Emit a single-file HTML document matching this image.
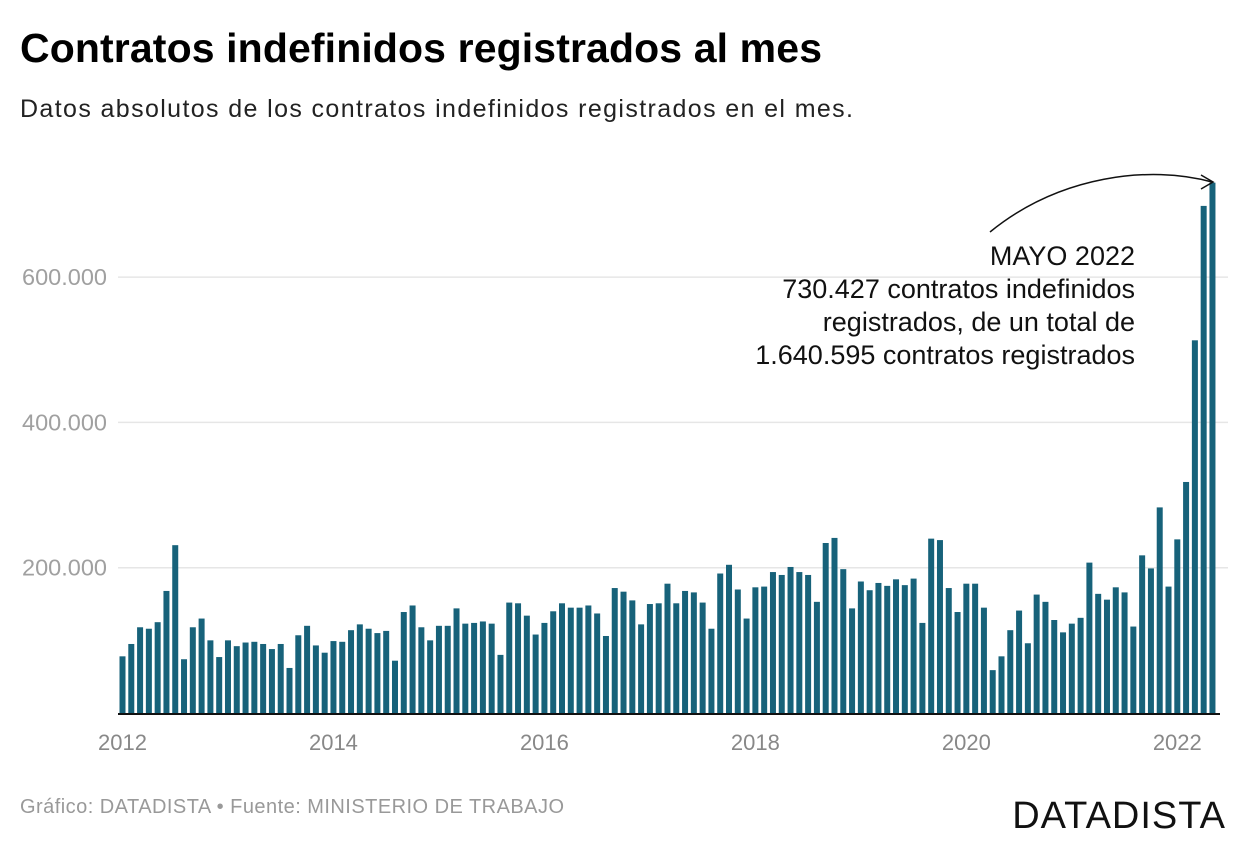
<!DOCTYPE html>
<html><head><meta charset="utf-8"><style>
body{margin:0;width:1240px;height:840px;background:#fff;font-family:"Liberation Sans",sans-serif;overflow:hidden}
</style></head><body>
<svg width="1240" height="840" xmlns="http://www.w3.org/2000/svg">
<text x="20" y="62" font-size="41" font-weight="bold" fill="#000" textLength="802">Contratos indefinidos registrados al mes</text>
<text x="20" y="117" font-size="25" fill="#222" textLength="833">Datos absolutos de los contratos indefinidos registrados en el mes.</text>
<g id="grid"></g><g id="bars"></g><g id="xlab"></g>
<text text-anchor="end" font-size="27" fill="#111">
<tspan x="1135" y="265">MAYO 2022</tspan><tspan x="1135" y="298">730.427 contratos indefinidos</tspan><tspan x="1135" y="331">registrados, de un total de</tspan><tspan x="1135" y="364">1.640.595 contratos registrados</tspan></text>
<path d="M990,232 C1060,175 1150,165 1212,182" fill="none" stroke="#111" stroke-width="1.5"/>
<path d="M1201,175 L1213,182 L1201,189" fill="none" stroke="#111" stroke-width="1.5"/>
<text x="20" y="813" font-size="20" fill="#999" textLength="544">Gráfico: DATADISTA • Fuente: MINISTERIO DE TRABAJO</text>
<text x="1226" y="828" text-anchor="end" font-size="38" fill="#111" letter-spacing="1">DATADISTA</text>
</svg>
<script>
const months=["2012","2013","2014","2015","2016","2017","2018","2019","2020","2021","2022"];
const values=[78,95,118,116,125,168,231,74,118,130,100,77,
100,92,97,98,95,88,95,62,107,120,93,83,
99,98,114,122,116,110,113,72,139,148,118,100,
120,120,144,123,124,126,123,80,152,151,134,108,
124,140,151,145,145,148,137,106,172,167,155,122,
150,151,178,151,168,166,152,116,192,204,170,130,
173,174,194,190,201,194,190,153,234,241,198,144,
181,169,179,175,184,176,185,124,240,238,172,139,
178,178,145,59,78,114,141,96,163,153,128,111,
123,131,207,164,156,173,166,119,217,199,283,174,
239,318,513,698,730];
const yTicks=[200,400,600];
const yTickLabels=["200.000","400.000","600.000"];
const NS="http://www.w3.org/2000/svg";
const y0=713,k=0.7265;
const y=v=>y0-v*k;
const x0=119.5,step=8.79,bw=6;
const x=i=>x0+i*step;
const grid=document.getElementById('grid'),bars=document.getElementById('bars'),xl=document.getElementById('xlab');
yTicks.forEach((t,j)=>{
 const l=document.createElementNS(NS,'line');
 l.setAttribute('x1',118);l.setAttribute('x2',1228);l.setAttribute('y1',y(t));l.setAttribute('y2',y(t));
 l.setAttribute('stroke','#e6e6e6');l.setAttribute('stroke-width','1.5');
 
 
 grid.appendChild(l);
 const tx=document.createElementNS(NS,'text');
 tx.setAttribute('x',107);tx.setAttribute('y',y(t)+8);tx.setAttribute('text-anchor','end');
 tx.setAttribute('font-size','23.5');tx.setAttribute('fill','#a0a0a0');tx.textContent=yTickLabels[j];
 
 
 grid.appendChild(tx);
});
values.forEach((v,i)=>{
 const r=document.createElementNS(NS,'rect');
 r.setAttribute('x',x(i));r.setAttribute('width',bw);r.setAttribute('y',y(v));r.setAttribute('height',v*k);
 r.setAttribute('fill','#17627a');
 
 
 bars.appendChild(r);
});
const ax=document.createElementNS(NS,'line');
ax.setAttribute('x1',118);ax.setAttribute('x2',1220);ax.setAttribute('y1',y0+1);ax.setAttribute('y2',y0+1);
ax.setAttribute('stroke','#111');ax.setAttribute('stroke-width','2');


bars.appendChild(ax);
months.forEach((m,j)=>{
 if(j%2) return;
 let cx=x(j*12)+bw/2; if(cx>1200) cx=1205;
 const tx=document.createElementNS(NS,'text');
 tx.setAttribute('x',cx);tx.setAttribute('y',750);tx.setAttribute('text-anchor','middle');
 tx.setAttribute('font-size','22');tx.setAttribute('fill','#888');tx.textContent=m;
 
 
 xl.appendChild(tx);
});
</script>
</body></html>
